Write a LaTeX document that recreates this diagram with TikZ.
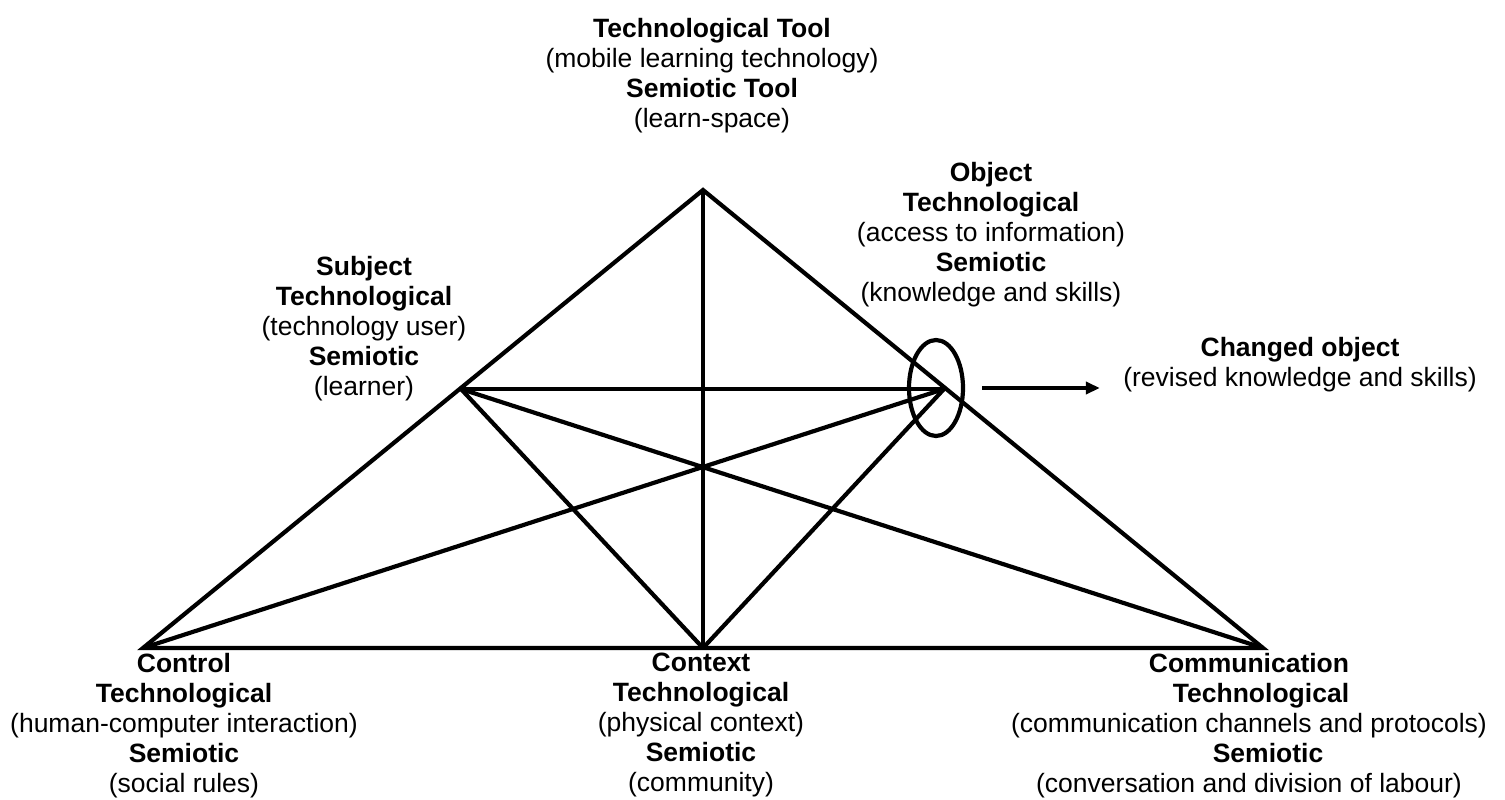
\documentclass[tikz,border=0pt]{standalone}
\usepackage{fontspec}
\setmainfont{Liberation Sans}
\usetikzlibrary{arrows.meta,shapes.geometric}

\tikzset{%
				every vertex text/.style={
					align=center,
					inner sep=0pt,
					anchor=north,
					font=\fontsize{13.25}{15}\selectfont
				},
				thick line/.style={
					line width=2.1pt,
					line join=miter
				},
			}

\begin{document}
\begin{tikzpicture}[x=0.5pt, y=-0.5pt, >={Triangle[length=7pt,width=6pt]}]
			\useasboundingbox (0,0) rectangle (1505,799);
			
			\coordinate (tool) at (703,190);
			\coordinate (subject) at (461,389);
			\coordinate (object) at (944,389);
			\coordinate (control) at (143,648);
			\coordinate (context) at (703,648);
			\coordinate (comm) at (1263,648);
			
			\draw [thick line] (control) -- (tool) -- (comm) -- cycle;
			\draw [thick line] (tool) -- (context);
			\draw [thick line] (subject) -- (object);
			
			\foreach \a/\b in {subject/context, subject/comm, object/control, object/context}
			\draw [thick line] (\a) -- (\b);
			
			\node [thick line, draw, ellipse, minimum width=27pt, minimum height=48pt, inner sep=0pt] (ring) at (936,388) {};
			
			\node [every vertex text] (tool-text) at (712,18)
			{\textbf{Technological Tool}\\(mobile learning technology)\\\textbf{Semiotic Tool}\\(learn-space)};
			
			\node [every vertex text] (object-text) at (991,162)
			{\textbf{Object}\\\textbf{Technological}\\(access to information)\\\textbf{Semiotic}\\(knowledge and skills)};
			
			\node [every vertex text] (subject-text) at (364,256)
			{\textbf{Subject}\\\textbf{Technological}\\(technology user)\\\textbf{Semiotic}\\(learner)};
			
			\node [every vertex text] (changed-text) at (1300,337)
			{\textbf{Changed object}\\(revised knowledge and skills)};
			
			\node [every vertex text] (control-text) at (184,653)
			{\textbf{Control}\\\textbf{Technological}\\(human-computer interaction)\\\textbf{Semiotic}\\(social rules)};
			
			\node [every vertex text] (context-text) at (701,653)
			{\textbf{Context}\\\textbf{Technological}\\(physical context)\\\textbf{Semiotic}\\(community)};
			
			\node [every vertex text] (comm-text) at (1249,653)
			{\textbf{Communication}\\\hspace*{12pt}\textbf{Technological}\\(communication channels and protocols)\\\hspace*{19pt}\textbf{Semiotic}\\(conversation and division of labour)};
			
			\draw [thick line, ->] ([xshift=8.5pt]ring.east) -- ([xshift=-11.5pt]changed-text.west |- ring.east);
			
			\end{tikzpicture}
\end{document}
